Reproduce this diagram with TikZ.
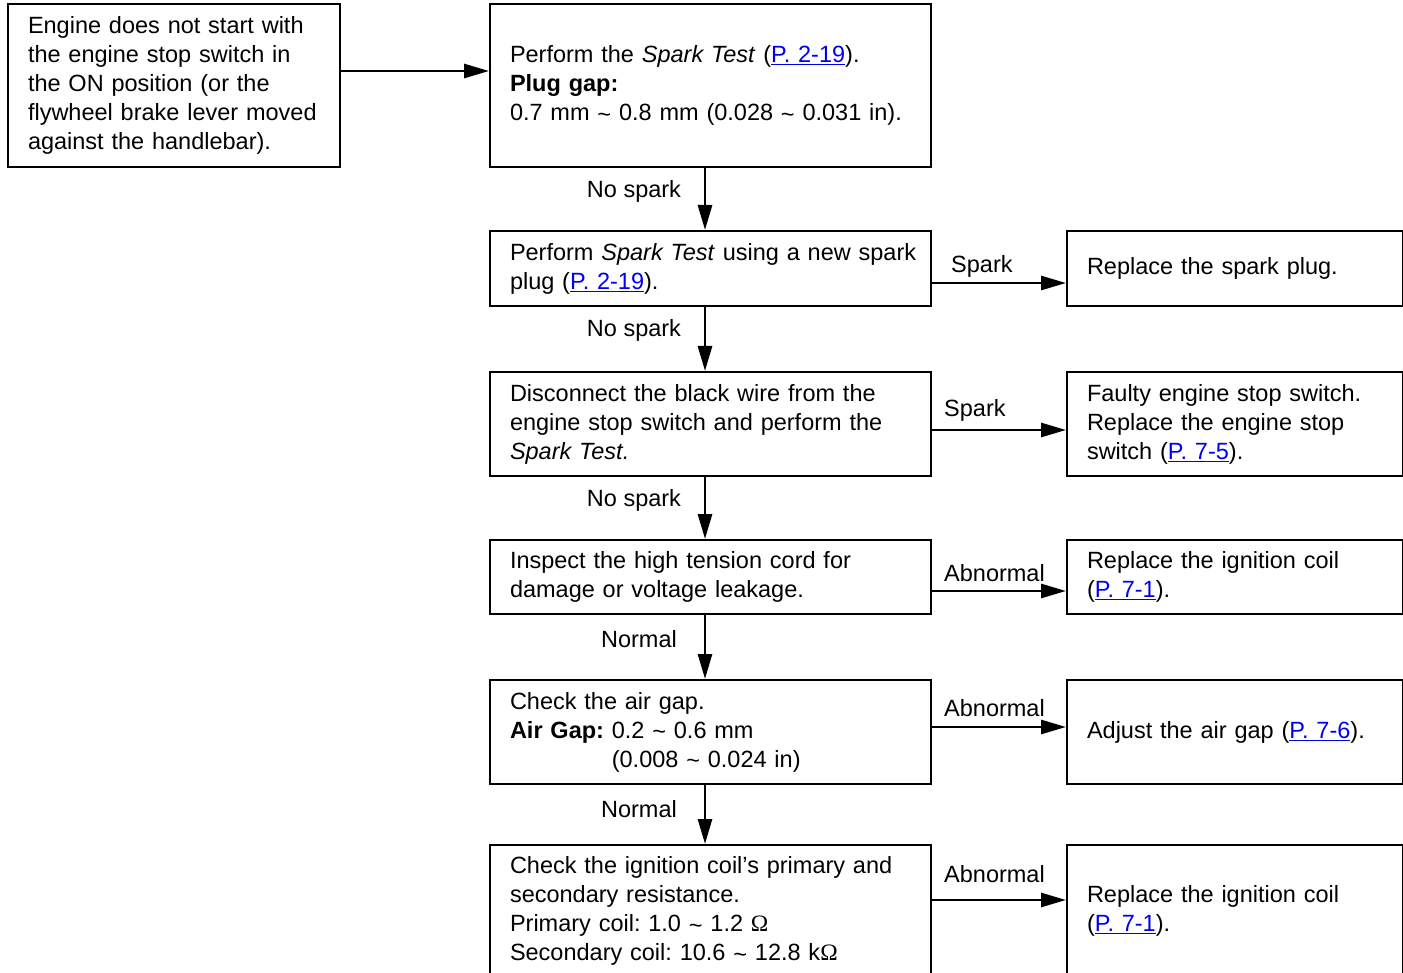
\documentclass[tikz,border=0pt]{standalone}
\usepackage{fontspec}
\setmainfont{Liberation Sans}
\newfontfamily\omfont{Liberation Serif}
\usetikzlibrary{arrows.meta,calc}
\definecolor{linkblue}{RGB}{0,0,238}
\newcommand{\lnk}[1]{\textcolor{linkblue}{\underline{#1}}}
\newcommand{\tld}{\raisebox{-1.5pt}{\textasciitilde}}
\newcommand{\ohm}{{\omfont\symbol{"03A9}}}
\frenchspacing
\begin{document}
\begin{tikzpicture}[x=1pt,y=-1pt,
  txt/.style={font=\fontsize{23.5}{29}\selectfont\frenchspacing},
  box/.style={draw, line width=2pt, anchor=north west, align=left, inner xsep=20pt, inner ysep=0pt, txt},
  arr/.style={line width=2.8pt, -{Triangle[length=25pt,width=14pt]}},
  lbl/.style={txt, inner sep=0pt}]
\useasboundingbox (0,0) rectangle (1403,973);
\clip (0,0) rectangle (1403,973);

\node[box, text width=292pt, minimum height=163pt] (A) at (7,3)
  {Engine does not start with\\the engine stop switch in\\the ON position (or the\\\mbox{flywheel brake lever moved}\\against the handlebar).};
\node[box, text width=401pt, minimum height=163pt] (B) at (489,3)
  {Perform the \textit{Spark Test} (\lnk{P. 2-19}).\\\textbf{Plug gap:}\\0.7 mm \tld{} 0.8 mm (0.028 \tld{} 0.031 in).};
\node[box, text width=401pt, minimum height=75pt] (C) at (489,230)
  {\mbox{Perform \textit{Spark Test} using a new spark}\\plug (\lnk{P. 2-19}).};
\node[box, text width=401pt, minimum height=104pt] (D) at (489,371)
  {Disconnect the black wire from the\\engine stop switch and perform the\\\textit{Spark Test.}};
\node[box, text width=401pt, minimum height=74pt] (E) at (489,539)
  {Inspect the high tension cord for\\damage or voltage leakage.};
\node[box, text width=401pt, minimum height=104pt] (F) at (489,679)
  {Check the air gap.\\\textbf{Air Gap:} 0.2 \tld{} 0.6 mm\\\hphantom{\textbf{Air Gap:} }(0.008 \tld{} 0.024 in)};
\node[box, text width=401pt, minimum height=132pt] (G) at (489,844)
  {\mbox{Check the ignition coil's primary and}\\secondary resistance.\\Primary coil: 1.0 \tld{} 1.2 \ohm\\Secondary coil: 10.6 \tld{} 12.8 k\ohm};

\node[box, text width=296pt, minimum height=75pt] (R1) at (1066,230)
  {Replace the spark plug.};
\node[box, text width=296pt, minimum height=104pt] (R2) at (1066,371)
  {Faulty engine stop switch.\\Replace the engine stop\\switch (\lnk{P. 7-5}).};
\node[box, text width=296pt, minimum height=74pt] (R3) at (1066,539)
  {Replace the ignition coil\\(\lnk{P. 7-1}).};
\node[box, text width=296pt, minimum height=104pt] (R4) at (1066,679)
  {Adjust the air gap (\lnk{P. 7-6}).};
\node[box, text width=296pt, minimum height=132pt] (R5) at (1066,844)
  {Replace the ignition coil\\(\lnk{P. 7-1}).};

\draw[arr] ([yshift=-68pt]A.north east) -- ([yshift=-68pt]B.north west);
\draw[arr] ([xshift=216pt]B.south west) -- ([xshift=216pt]C.north west);
\draw[arr] ([xshift=216pt]C.south west) -- ([xshift=216pt]D.north west);
\draw[arr] ([xshift=216pt]D.south west) -- ([xshift=216pt]E.north west);
\draw[arr] ([xshift=216pt]E.south west) -- ([xshift=216pt]F.north west);
\draw[arr] ([xshift=216pt]F.south west) -- ([xshift=216pt]G.north west);

\draw[arr] ([yshift=-53pt]C.north east) -- ([yshift=-53pt]R1.north west);
\draw[arr] ([yshift=-59pt]D.north east) -- ([yshift=-59pt]R2.north west);
\draw[arr] ([yshift=-52pt]E.north east) -- ([yshift=-52pt]R3.north west);
\draw[arr] ([yshift=-48pt]F.north east) -- ([yshift=-48pt]R4.north west);
\draw[arr] ([yshift=-56pt]G.north east) -- ([yshift=-56pt]R5.north west);

\node[lbl] (l1) at (634,191) {No spark};
\node[lbl] (l2) at (634,330) {No spark};
\node[lbl] (l3) at (634,500) {No spark};
\node[lbl] (l4) at (639,639) {Normal};
\node[lbl] (l5) at (639,809) {Normal};
\node[lbl, anchor=west] (s1) at (951,266) {Spark};
\node[lbl, anchor=west] (s2) at (944,410) {Spark};
\node[lbl, anchor=west] (s3) at (944,573) {Abnormal};
\node[lbl, anchor=west] (s4) at (944,708) {Abnormal};
\node[lbl, anchor=west] (s5) at (944,874) {Abnormal};
\end{tikzpicture}
\end{document}
